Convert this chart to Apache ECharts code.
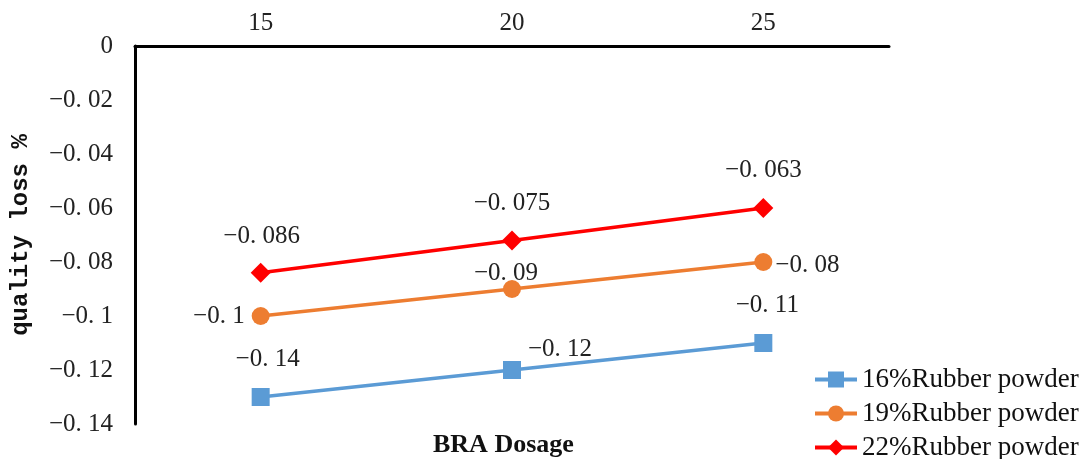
<!DOCTYPE html>
<html>
<head>
<meta charset="utf-8">
<script src="https://cdn.jsdelivr.net/npm/echarts@6/dist/echarts.min.js"></script>
<style>html,body{margin:0;padding:0;background:#fff;}#c{width:1087px;height:459px;}</style>
</head>
<body>
<div id="c"></div>
<script>
const categories = ['15', '20', '25'];
const seriesNames = ['16%Rubber powder', '19%Rubber powder', '22%Rubber powder'];
const values16 = [-0.13, -0.12, -0.11];
const values19 = [-0.1, -0.09, -0.08];
const values22 = [-0.084, -0.072, -0.060];
const labels16 = ['−0. 14', '−0. 12', '−0. 11'];
const labels19 = ['−0. 1', '−0. 09', '−0. 08'];
const labels22 = ['−0. 086', '−0. 075', '−0. 063'];
const yTicks = { min: -0.14, max: 0, interval: 0.02 };
const xTitle = 'BRA Dosage';
const yTitle = 'quality loss %';

const serifFont = '"Liberation Serif", "DejaVu Serif", serif';
const colors = ['#5B9BD5', '#ED7D31', '#FF0000'];
const symbols = ['rect', 'circle', 'diamond'];
const symbolSizes = [18, 18, 20];
// label placement per point (style only)
const labelPlace = [
  [{position:'top', offset:[7,-11]}, {position:'top', offset:[48,6]}, {position:'top', offset:[4,-11]}],
  [{position:'left', offset:[-2,0]}, {position:'top', offset:[-6,11]}, {position:'right', offset:[-2,3]}],
  [{position:'top', offset:[1,-9]}, {position:'top', offset:[0,-9]}, {position:'top', offset:[0,-10]}]
];
const allValues = [values16, values19, values22];
const allLabels = [labels16, labels19, labels22];

function fmtTick(v) {
  if (Math.abs(v) < 1e-9) return '0';
  let s = Math.abs(v).toFixed(2).replace(/0+$/, '');
  s = s.replace('.', '. ');
  return '−' + s;
}

const series = seriesNames.map((name, si) => ({
  name: name,
  type: 'line',
  data: allValues[si].map((v, i) => ({
    value: v,
    label: Object.assign({ show: true, formatter: allLabels[si][i] }, labelPlace[si][i])
  })),
  symbol: symbols[si],
  symbolSize: symbolSizes[si],
  lineStyle: { color: colors[si], width: 3.5 },
  itemStyle: { color: colors[si] },
  label: { fontFamily: serifFont, fontSize: 25, color: '#222' },
  animation: false
}));

const chart = echarts.init(document.getElementById('c'));
chart.setOption({
  backgroundColor: '#fff',
  animation: false,
  grid: { left: 135, right: 198, top: 46, bottom: 35, outerBoundsMode: 'none', containLabel: false },
  xAxis: {
    type: 'category',
    data: categories,
    position: 'top',
    boundaryGap: true,
    axisLine: { lineStyle: { color: '#000', width: 3 } },
    axisTick: { show: false },
    axisLabel: { fontFamily: serifFont, fontSize: 25, color: '#222', margin: 10 },
    splitLine: { show: false }
  },
  yAxis: {
    type: 'value',
    min: yTicks.min,
    max: yTicks.max,
    interval: yTicks.interval,
    axisLine: { show: true, lineStyle: { color: '#000', width: 3 } },
    axisTick: { show: false },
    splitLine: { show: false },
    axisLabel: { fontFamily: serifFont, fontSize: 25, color: '#222', margin: 22, formatter: fmtTick },
    name: yTitle,
    nameLocation: 'middle',
    nameGap: 102,
    nameRotate: 90,
    nameTextStyle: { fontFamily: '"Liberation Mono", "DejaVu Sans Mono", monospace', fontSize: 24, fontWeight: 'bold', color: '#111' }
  },
  graphic: [{
    type: 'text',
    left: 433,
    top: 432,
    style: { text: xTitle, font: 'bold 26px "Liberation Serif", serif', fill: '#111' }
  }],
  legend: {
    orient: 'vertical',
    left: 808,
    top: 361,
    width: 290,
    height: 110,
    itemWidth: 42,
    itemHeight: 20,
    itemGap: 7,
    lineStyle: { width: 4 },
    textStyle: { fontFamily: serifFont, fontSize: 27, color: '#111' },
    data: seriesNames
  },
  series: series
});
</script>
</body>
</html>
